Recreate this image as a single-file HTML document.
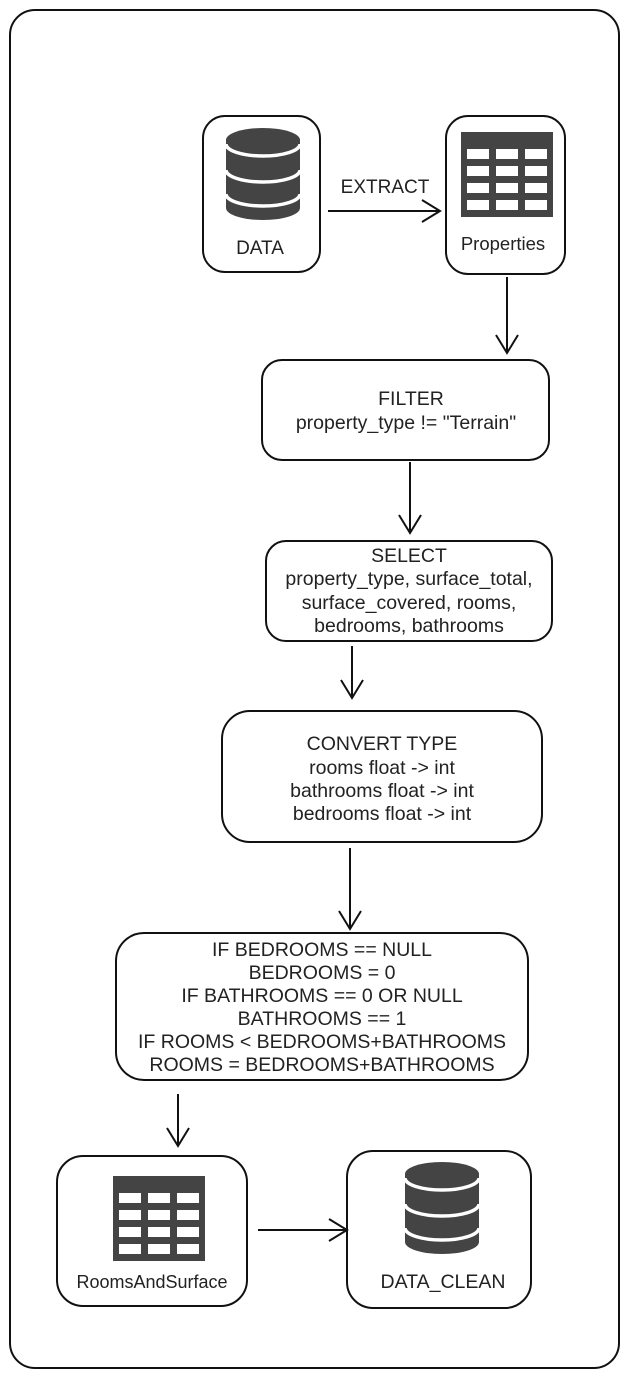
<!DOCTYPE html>
<html><head><meta charset="utf-8"><style>
html,body{margin:0;padding:0;background:#fff;}
svg{display:block;}
text{font-family:"Liberation Sans",Arial,sans-serif;font-size:19.5px;fill:#222;text-anchor:middle;}
</style></head><body>
<svg width="629" height="1379" viewBox="0 0 629 1379" xmlns="http://www.w3.org/2000/svg">
<defs>
<marker id="ah" markerWidth="24" markerHeight="26" refX="20" refY="13" orient="auto" markerUnits="userSpaceOnUse">
<path d="M2,2 L20,13 L2,24" fill="none" stroke="#111" stroke-width="2"/>
</marker>
<g id="db">
<path d="M0,12 L0,80 A37,12 0 0 0 74,80 L74,12 Z" fill="#444"/>
<ellipse cx="37" cy="12" rx="37" ry="12" fill="#444"/>
<path d="M0,16 A37,12 0 0 0 74,16" fill="none" stroke="#fff" stroke-width="3.5"/>
<path d="M0,42 A37,12 0 0 0 74,42" fill="none" stroke="#fff" stroke-width="3.5"/>
<path d="M0,66 A37,12 0 0 0 74,66" fill="none" stroke="#fff" stroke-width="3.5"/>
</g>
<g id="tbl">
<rect x="0" y="0" width="92" height="85" fill="#444"/>
<g fill="#fff">
<rect x="6" y="17" width="22" height="10"/><rect x="35" y="17" width="22" height="10"/><rect x="64" y="17" width="22" height="10"/>
<rect x="6" y="34" width="22" height="10"/><rect x="35" y="34" width="22" height="10"/><rect x="64" y="34" width="22" height="10"/>
<rect x="6" y="51" width="22" height="10"/><rect x="35" y="51" width="22" height="10"/><rect x="64" y="51" width="22" height="10"/>
<rect x="6" y="68" width="22" height="10"/><rect x="35" y="68" width="22" height="10"/><rect x="64" y="68" width="22" height="10"/>
</g>
</g>
</defs>
<g fill="none" stroke="#111" stroke-width="2">
<rect x="10" y="10" width="609" height="1358" rx="25"/>
<rect x="203" y="116" width="117" height="156" rx="22"/>
<rect x="446" y="116" width="119" height="158" rx="22"/>
<rect x="262" y="360" width="287" height="100" rx="20"/>
<rect x="266" y="541" width="286" height="100" rx="20"/>
<rect x="222" y="711" width="320" height="131" rx="28"/>
<rect x="116" y="933" width="412" height="147" rx="28"/>
<rect x="57" y="1156" width="190" height="150" rx="26"/>
<rect x="347" y="1151" width="184" height="157" rx="26"/>
</g>
<g stroke="#111" stroke-width="2" fill="none" marker-end="url(#ah)">
<line x1="328" y1="211" x2="440" y2="211"/>
<line x1="507" y1="277" x2="507" y2="353"/>
<line x1="410" y1="462" x2="410" y2="533"/>
<line x1="352" y1="646" x2="352" y2="698"/>
<line x1="350" y1="848" x2="350" y2="929"/>
<line x1="178" y1="1094" x2="178" y2="1146"/>
<line x1="258" y1="1230" x2="347" y2="1230"/>
</g>
<use href="#db" x="226" y="128"/>
<use href="#tbl" x="461" y="132"/>
<use href="#tbl" x="113" y="1176"/>
<use href="#db" x="405" y="1162"/>
<text x="260" y="254" style="font-size:19px">DATA</text>
<text x="385" y="193" style="font-size:19px">EXTRACT</text>
<text x="503" y="250" style="font-size:18.5px">Properties</text>
<text x="411" y="405">FILTER</text>
<text x="406" y="429">property_type != "Terrain"</text>
<text x="409" y="562">SELECT</text>
<text x="409" y="585">property_type, surface_total,</text>
<text x="409" y="609">surface_covered, rooms,</text>
<text x="409" y="632">bedrooms, bathrooms</text>
<text x="382" y="750">CONVERT TYPE</text>
<text x="382" y="774">rooms float -&gt; int</text>
<text x="382" y="797">bathrooms float -&gt; int</text>
<text x="382" y="820">bedrooms float -&gt; int</text>
<text x="322" y="956">IF BEDROOMS == NULL</text>
<text x="322" y="979">BEDROOMS = 0</text>
<text x="322" y="1002">IF BATHROOMS == 0 OR NULL</text>
<text x="322" y="1025">BATHROOMS == 1</text>
<text x="322" y="1048">IF ROOMS &lt; BEDROOMS+BATHROOMS</text>
<text x="322" y="1071">ROOMS = BEDROOMS+BATHROOMS</text>
<text x="152" y="1288" style="font-size:18px">RoomsAndSurface</text>
<text x="443" y="1288">DATA_CLEAN</text>
</svg>
</body></html>
